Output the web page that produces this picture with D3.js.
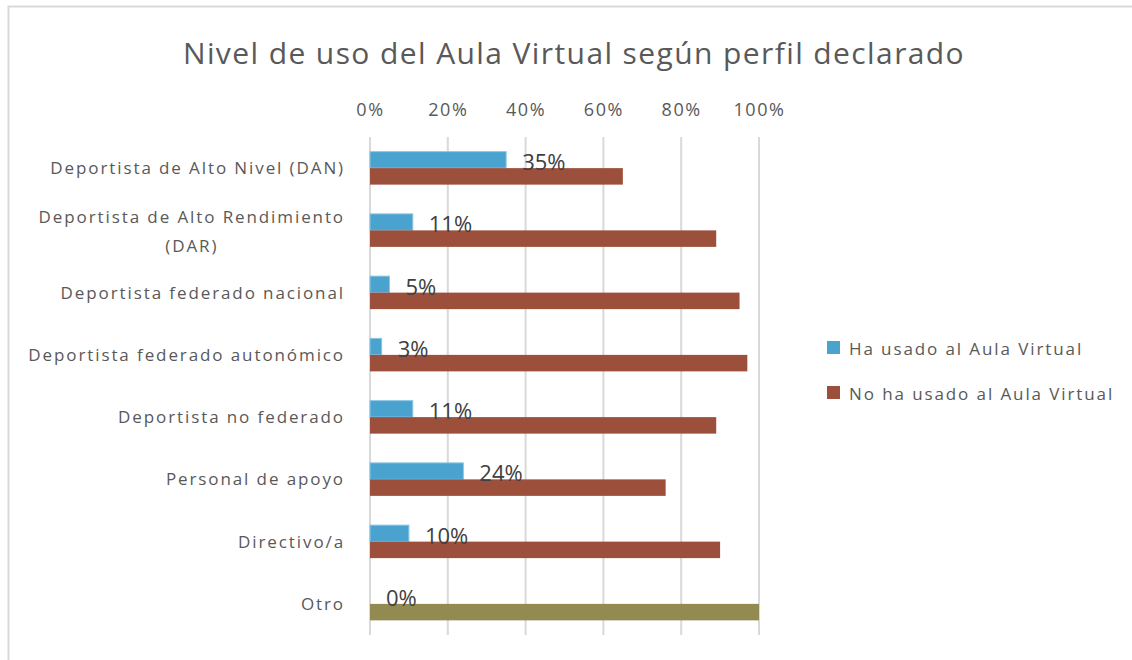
<!DOCTYPE html>
<html>
<head>
<meta charset="utf-8">
<script src="https://cdn.jsdelivr.net/npm/d3@7"></script>
<style>
  body { margin: 0; background: #fff; }
  text { font-family: "Open Sans", Lato, sans-serif; }
</style>
</head>
<body>
<div id="chart"></div>
<script>
// Categories, top to bottom
const categories = [
    "Deportista de Alto Nivel (DAN)",
    "Deportista de Alto Rendimiento (DAR)",
    "Deportista federado nacional",
    "Deportista federado autonómico",
    "Deportista no federado",
    "Personal de apoyo",
    "Directivo/a",
    "Otro"
];

// Share of each profile (fractions)
const usedValues = [0.35, 0.11, 0.05, 0.03, 0.11, 0.24, 0.10, 0.00];
const notUsedValues = [0.65, 0.89, 0.95, 0.97, 0.89, 0.76, 0.90, 1.00];

const seriesNames = ["Ha usado al Aula Virtual", "No ha usado al Aula Virtual"];
const tickValues = [0, 0.2, 0.4, 0.6, 0.8, 1.0];

const width = 1132;
const height = 660;
const textColor = "#595959";
const spacing = "1.9px";

const svg = d3.select("#chart")
    .append("svg")
    .attr("width", width)
    .attr("height", height);

// chart border
svg.append("rect")
    .attr("x", 8.5)
    .attr("y", 6.5)
    .attr("width", width + 20)
    .attr("height", height + 20)
    .attr("fill", "none")
    .attr("stroke", "#d9d9d9")
    .attr("stroke-width", 2);

const xScale = d3.scaleLinear()
    .domain([0, 1])
    .range([370, 759]);

const yScale = d3.scaleBand()
    .domain(categories)
    .range([137, 635]);

// gridlines
svg.append("g")
    .selectAll("line")
    .data(tickValues)
    .enter()
    .append("line")
    .attr("x1", d => xScale(d))
    .attr("x2", d => xScale(d))
    .attr("y1", 137)
    .attr("y2", 635)
    .attr("stroke", "#d9d9d9")
    .attr("stroke-width", 2);

// top axis labels
const xAxis = d3.axisTop(xScale)
    .tickValues(tickValues)
    .tickFormat(d3.format(".0%"))
    .tickSize(0)
    .tickPadding(0);

const gx = svg.append("g")
    .attr("transform", "translate(0, 116)")
    .call(xAxis);
gx.select(".domain").remove();
gx.selectAll("text")
    .attr("font-family", "'Open Sans', sans-serif")
    .attr("font-size", "18px")
    .attr("letter-spacing", "1.6px")
    .attr("fill", textColor);

// title
svg.append("text")
    .attr("x", 574)
    .attr("y", 64)
    .attr("text-anchor", "middle")
    .attr("font-size", "30px")
    .attr("letter-spacing", "1.4px")
    .attr("fill", textColor)
    .text("Nivel de uso del Aula Virtual según perfil declarado");

// category labels (right aligned, wrap long ones)
const bw = yScale.bandwidth();
categories.forEach(c => {
    const cy = yScale(c) + bw / 2;
    if (c.length > 31) {
        const words = c.split(" ");
        const first = words.slice(0, -1).join(" ");
        const last = words[words.length - 1];
        const t = svg.append("text")
            .attr("font-size", "17px")
            .attr("letter-spacing", spacing)
            .attr("fill", textColor)
            .attr("text-anchor", "middle");
        const firstLine = t.append("tspan").attr("y", cy - 7).text(first);
        const w = firstLine.node().getComputedTextLength();
        const mid = 345 - w / 2;
        firstLine.attr("x", mid);
        t.append("tspan").attr("x", mid).attr("y", cy + 22).text(last);
    } else {
        svg.append("text")
            .attr("x", 345)
            .attr("y", cy + 6)
            .attr("text-anchor", "end")
            .attr("font-size", "17px")
            .attr("letter-spacing", spacing)
            .attr("fill", textColor)
            .text(c);
    }
});

// bars
const barH = 16.5;
const usedColor = "#4aa3cf";
const notUsedColor = "#9c4f3b";
const otherColor = "#938a52";

svg.append("g")
    .selectAll("rect")
    .data(usedValues)
    .enter()
    .append("rect")
    .attr("x", xScale(0))
    .attr("y", (d, i) => yScale(categories[i]) + bw / 2 - barH)
    .attr("width", d => xScale(d) - xScale(0))
    .attr("height", barH)
    .attr("fill", usedColor)
    .attr("stroke", d => d > 0 ? "#8cc6e4" : "none")
    .attr("stroke-width", 1);

svg.append("g")
    .selectAll("rect")
    .data(notUsedValues)
    .enter()
    .append("rect")
    .attr("x", xScale(0))
    .attr("y", (d, i) => yScale(categories[i]) + bw / 2)
    .attr("width", d => xScale(d) - xScale(0))
    .attr("height", barH)
    .attr("fill", (d, i) => categories[i] === "Otro" ? otherColor : notUsedColor);

// data labels for used series
svg.append("g")
    .selectAll("text")
    .data(usedValues)
    .enter()
    .append("text")
    .attr("x", d => xScale(d) + 16)
    .attr("y", (d, i) => yScale(categories[i]) + bw / 2 + 2)
    .attr("font-family", "Lato, sans-serif")
    .attr("font-size", "22px")
    .attr("fill", "#404040")
    .text(d => d3.format(".0%")(d));

// legend
const legend = svg.append("g")
    .attr("transform", "translate(827, 341)");

const legendItems = legend.selectAll("g")
    .data(seriesNames)
    .enter()
    .append("g")
    .attr("transform", (d, i) => `translate(0, ${i * 45})`);

legendItems.append("rect")
    .attr("width", 13)
    .attr("height", 13)
    .attr("fill", (d, i) => i === 0 ? usedColor : notUsedColor);

legendItems.append("text")
    .attr("x", 22)
    .attr("y", 14)
    .attr("font-size", "17px")
    .attr("letter-spacing", spacing)
    .attr("fill", textColor)
    .text(d => d);
</script>
</body>
</html>
